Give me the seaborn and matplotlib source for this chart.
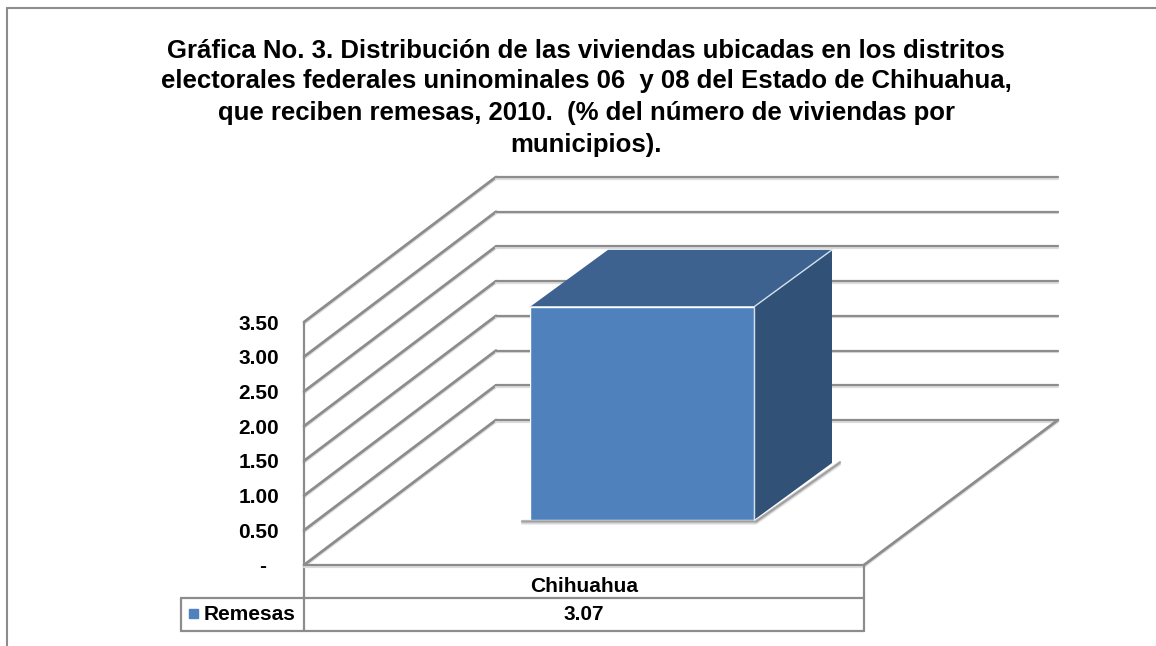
import matplotlib
matplotlib.use('Agg')
import matplotlib.pyplot as plt
from matplotlib.patches import Polygon, Rectangle
import seaborn as sns
import numpy as np

categories = ['Chihuahua']
remesas = [3.07]
series_name = 'Remesas'
y_ticks = [0, 0.5, 1, 1.5, 2, 2.5, 3, 3.5]
y_labels = ['-  ', '0.50', '1.00', '1.50', '2.00', '2.50', '3.00', '3.50']
title_lines = [
    'Gráfica No. 3. Distribución de las viviendas ubicadas en los distritos',
    'electorales federales uninominales 06  y 08 del Estado de Chihuahua,',
    'que reciben remesas, 2010.  (% del número de viviendas por',
    'municipios).',
]

W, H = 1156, 646
# front wall of the fake 3d box, in pixels
X0, X1, Y0, Y_TOP = 304, 864, 565, 322
DX, DY = 192, -145
GRAY = '#8c8c8c'

sns.set_theme(style='white')
plt.rcParams['font.family'] = ['Liberation Sans', 'DejaVu Sans']
plt.rcParams['font.weight'] = 'bold'

fig = plt.figure(figsize=(W / 100, H / 100), dpi=100, facecolor='white')
bg = fig.add_axes([0, 0, 1, 1])
bg.set_xlim(0, W)
bg.set_ylim(H, 0)
bg.axis('off')


def val_y(v):
    return Y0 - (Y0 - Y_TOP) * v / max(y_ticks)


def line(xs, ys, lw=1.6, shadow=True):
    if shadow:
        bg.plot(xs, np.array(ys) + 1.5, color='#dcdcdc', lw=lw, solid_capstyle='round')
    bg.plot(xs, ys, color=GRAY, lw=lw, solid_capstyle='round')


# outer frame
line([7, 7], [H, 8], lw=1.5, shadow=False)
line([7, W], [8, 8], lw=1.5, shadow=False)

# walls and gridlines
for v in y_ticks:
    y = val_y(v)
    line([X0, X0 + DX], [y, y + DY], lw=2)
    line([X0 + DX, W - 98], [y + DY, y + DY])
line([X0, X0], [val_y(max(y_ticks)), Y0 + 66], shadow=False)
# floor
line([X1, W - 98], [Y0, Y0 + DY], lw=2)
line([X0, X1], [Y0, Y0])

# table under the chart
line([X1, X1], [Y0, Y0 + 66], shadow=False)
line([181, X1], [Y0 + 33, Y0 + 33], shadow=False)
line([181, X1], [Y0 + 66, Y0 + 66], shadow=False)
line([181, 181], [Y0 + 33, Y0 + 66], shadow=False)
bg.add_patch(Rectangle((189, Y0 + 44), 9, 9, color='#4f81bd'))
bg.text(250, Y0 + 49.5, series_name, ha='center', va='center', fontsize=15, fontweight='bold', color='black')
bg.text((X0 + X1) / 2, Y0 + 22, categories[0], ha='center', va='center', fontsize=15, fontweight='bold', color='black')
bg.text((X0 + X1) / 2, Y0 + 49.5, f'{remesas[0]:.2f}', ha='center', va='center', fontsize=15, fontweight='bold', color='black')

# title
for txt, ty in zip(title_lines, [51, 81, 113, 145]):
    bg.text(586, ty, txt, ha='center', va='center', fontsize=18.5, fontweight='bold', color='black')

# value axis, only the ticks
ax = fig.add_axes([X0 / W, 1 - Y0 / H, (X1 - X0) / W, (Y0 - Y_TOP) / H])
ax.patch.set_alpha(0)
ax.set_ylim(0, max(y_ticks))
ax.set_yticks(y_ticks)
ax.set_yticklabels(y_labels, fontsize=15, fontweight='bold', color='black')
ax.set_xticks([])
ax.tick_params(axis='y', length=0, pad=18)
sns.despine(ax=ax, left=True, bottom=True)

# the bar stands in the middle of the floor
BL, BR, BB = 530, 754, 520
bdx, bdy = 78, -57
h_px = (Y0 - Y_TOP) / max(y_ticks) * remesas[0]
BT = BB - h_px

# soft shadow on the floor
for off, a in [(4, 0.08), (3, 0.15), (2, 0.25), (1, 0.4)]:
    bg.plot([BL - 8, BR + 2, BR + bdx + 8], [BB + off, BB + off, BB + bdy + off - 2],
            color='#555555', alpha=a, lw=1.6, zorder=3)

bg.add_patch(Polygon([(BL, BT), (BL + bdx, BT + bdy), (BR + bdx, BT + bdy), (BR, BT)],
                     fc='#3d628f', ec='none', zorder=4))
bg.add_patch(Polygon([(BR, BT), (BR + bdx, BT + bdy), (BR + bdx, BB + bdy), (BR, BB)],
                     fc='#315176', ec='none', zorder=4))
bg.plot([BL, BR, BR + bdx], [BT, BT, BT + bdy], color='#d5e0ee', lw=1, zorder=5)
bg.plot([BR, BR], [BT, BB], color='#d5e0ee', lw=1, zorder=5)

bar_ax = fig.add_axes([BL / W, 1 - BB / H, (BR - BL) / W, (Y0 - Y_TOP) / H])
sns.barplot(x=categories, y=remesas, width=1, color='#4f81bd', saturation=1, ax=bar_ax)
bar_ax.patch.set_alpha(0)
bar_ax.set_xlim(-0.5, 0.5)
bar_ax.set_ylim(0, max(y_ticks))
bar_ax.axis('off')

fig.savefig('out.png', dpi=100)
